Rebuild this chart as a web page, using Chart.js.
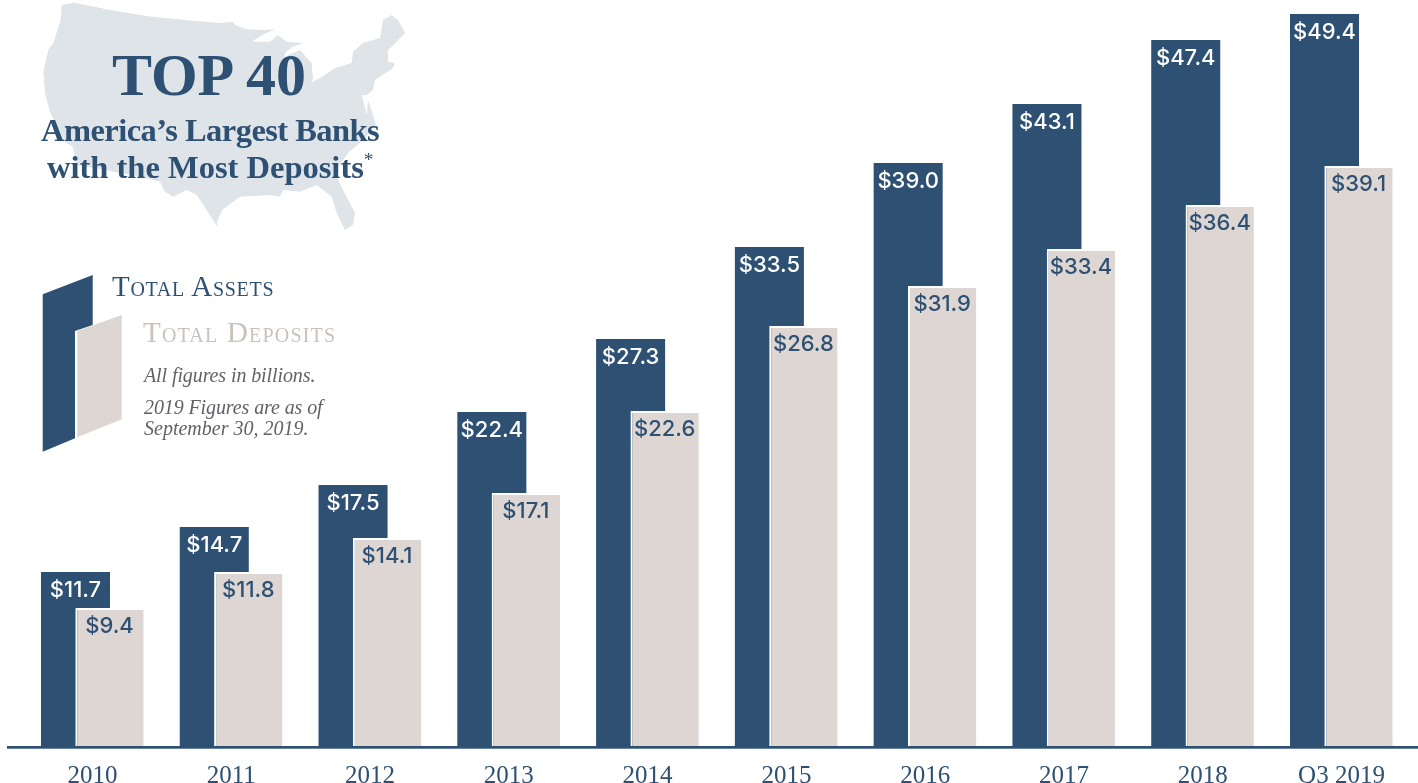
<!DOCTYPE html>
<html>
<head>
<meta charset="utf-8">
<script src="https://cdn.jsdelivr.net/npm/chart.js@4"></script>
<style>
html,body{margin:0;padding:0;background:#fff;overflow:hidden}
#wrap{position:relative;width:1418px;height:783px}
#deco{position:absolute;left:0;top:0}
#chartBox{position:absolute;left:0;top:0;width:1418px;height:783px}
.t{position:absolute;white-space:nowrap;font-family:"Liberation Serif",serif;color:#2d5073;line-height:1}
.b{font-weight:700}
.sc{font-variant:small-caps}
.n{font-style:italic;color:#5f6266;font-size:20px}
sup{font-size:.6em;font-weight:400;line-height:0;color:#2d5073}
</style>
</head>
<body>
<div id="wrap">
<svg id="deco" width="1418" height="783">
<path fill="#dfe4e9" d="M61.7 5 L73.3 2.7 L75 2.7 L110 10 L150 16.5 L190 20.5 L220 23 L233 21.7 L235 25 L246.7 29.3 L263 30 L275 29.3 L262 35 L251.7 41.7 L270 41.7 L278 35 L286.7 41.7 L303 43.3 L292 47 L285 53 L283 75 L288 55 L300 50 L311.7 63.3 L313 80 L310 83 L322 77 L335 68 L351.7 63 L353 51.7 L363 43 L380 38 L383 20 L391.7 15 L398 20 L405 33 L396.7 41.7 L388 50 L388 61.7 L395 63.3 L393 68 L375 80 L373 90 L366.7 95 L361.7 95 L366.7 115 L368 100 L373 115 L376 125 L363 140 L348 153 L336 170 L336.7 176.7 L343 190 L355 213 L353 225 L345 230 L336.7 213 L331.7 196.7 L316.7 185 L300 191.7 L283 190 L280 196.7 L270 195 L240 196.7 L222 210 L217 222 L217.5 227 L206.7 210 L196.7 195 L186.7 190 L173 196.7 L165 191.7 L160 181.7 L140 176.7 L110 171 L76 165 L73 147 L65 141.7 L55 121.7 L50 111.7 L45 93 L43.3 71.7 L48.3 50 L53.3 43 L60.7 20 Z"/>
<polygon fill="#2d5073" points="42.7,294.3 92.7,275 92.7,325 75,331 75,438.3 42.7,451.7"/>
<polygon fill="#ddd6d3" points="77.3,331 121.7,315 121.7,419.3 77.3,437.3"/>
</svg>
<div id="chartBox"><canvas id="c" width="1418" height="783"></canvas></div>
<div class="t b" style="left:112px;top:45px;font-size:60px;letter-spacing:0">TOP 40</div>
<div class="t b" style="left:41px;top:114px;font-size:32.5px;letter-spacing:-.55px">America’s Largest Banks</div>
<div class="t b" style="left:47px;top:151px;font-size:32.5px">with the Most Deposits<sup>*</sup></div>
<div class="t sc" style="left:112px;top:272px;font-size:29px;letter-spacing:.7px">Total Assets</div>
<div class="t sc" style="left:143px;top:318px;font-size:29px;letter-spacing:1.2px;color:#c9c1ba">Total Deposits</div>
<div class="t n" style="left:144px;top:365px;letter-spacing:-.1px">All figures in billions.</div>
<div class="t n" style="left:144px;top:397px;letter-spacing:-.1px">2019 Figures are as of</div>
<div class="t n" style="left:144px;top:418px">September 30, 2019.</div>
</div>
<script>
const categories = ['2010','2011','2012','2013','2014','2015','2016','2017','2018','Q3 2019'];
// Bar heights (billions).
const totalAssets = [11.74,14.77,17.58,22.48,27.38,33.56,39.19,43.15,47.45,49.19];
const totalDeposits = [9.33,11.74,14.03,17.05,22.55,28.26,30.94,33.42,36.38,38.99];
// Figures printed on the bars. 2015 and 2016 deposits are drawn at a different height than printed in the reference.
const assetLabels = ['$11.7','$14.7','$17.5','$22.4','$27.3','$33.5','$39.0','$43.1','$47.4','$49.4'];
const depositLabels = ['$9.4','$11.8','$14.1','$17.1','$22.6','$26.8','$31.9','$33.4','$36.4','$39.1'];
const NAVY = '#2d5073', SAND = '#ddd6d3';

const overlapAndLabels = {
  id: 'overlapAndLabels',
  beforeDatasetDraw(chart, args) { if (args.index === 1) return false; },
  afterDatasetDraw(chart, args) {
    if (args.index === 0) chart.getDatasetMeta(1).controller.draw();
  },
  afterDatasetsDraw(chart) {
    const c = chart.ctx;
    const y = chart.scales.y.getPixelForValue(0);
    c.save();
    c.fillStyle = NAVY;
    c.fillRect(7, y - 1, chart.width - 7, 2.7);
    c.font = '500 22px Inter';
    c.textAlign = 'center';
    c.textBaseline = 'middle';
    [assetLabels, depositLabels].forEach((labels, i) => {
      c.fillStyle = i === 0 ? '#ffffff' : NAVY;
      chart.getDatasetMeta(i).data.forEach((el, k) => {
        c.fillText(labels[k], el.x, el.y + 18.5);
      });
    });
    c.restore();
  }
};

new Chart(document.getElementById('c'), {
  type: 'bar',
  data: {
    labels: categories,
    datasets: [
      { label: 'Total Assets', data: totalAssets, backgroundColor: NAVY, borderWidth: 0,
        categoryPercentage: 0.49, barPercentage: 2.03 },
      { label: 'Total Deposits', data: totalDeposits, backgroundColor: SAND, borderColor: '#ffffff',
        borderWidth: { left: 2, top: 2, right: 0, bottom: 0 }, borderSkipped: false,
        categoryPercentage: 0.49, barPercentage: 2.01 }
    ]
  },
  plugins: [overlapAndLabels],
  options: {
    responsive: false,
    animation: false,
    layout: { padding: { left: 23.1, right: 7.1, top: 0, bottom: 0 } },
    plugins: { legend: { display: false }, tooltip: { enabled: false }, title: { display: false } },
    scales: {
      x: {
        grid: { display: false, drawTicks: false },
        border: { display: false },
        afterFit(s) { s.height = 36; },
        ticks: { color: NAVY, font: { family: 'Liberation Serif', size: 25 }, padding: 14,
                 maxRotation: 0, autoSkip: false }
      },
      y: { display: false, min: 0, max: 50.13 }
    }
  }
});
</script>
</body>
</html>
